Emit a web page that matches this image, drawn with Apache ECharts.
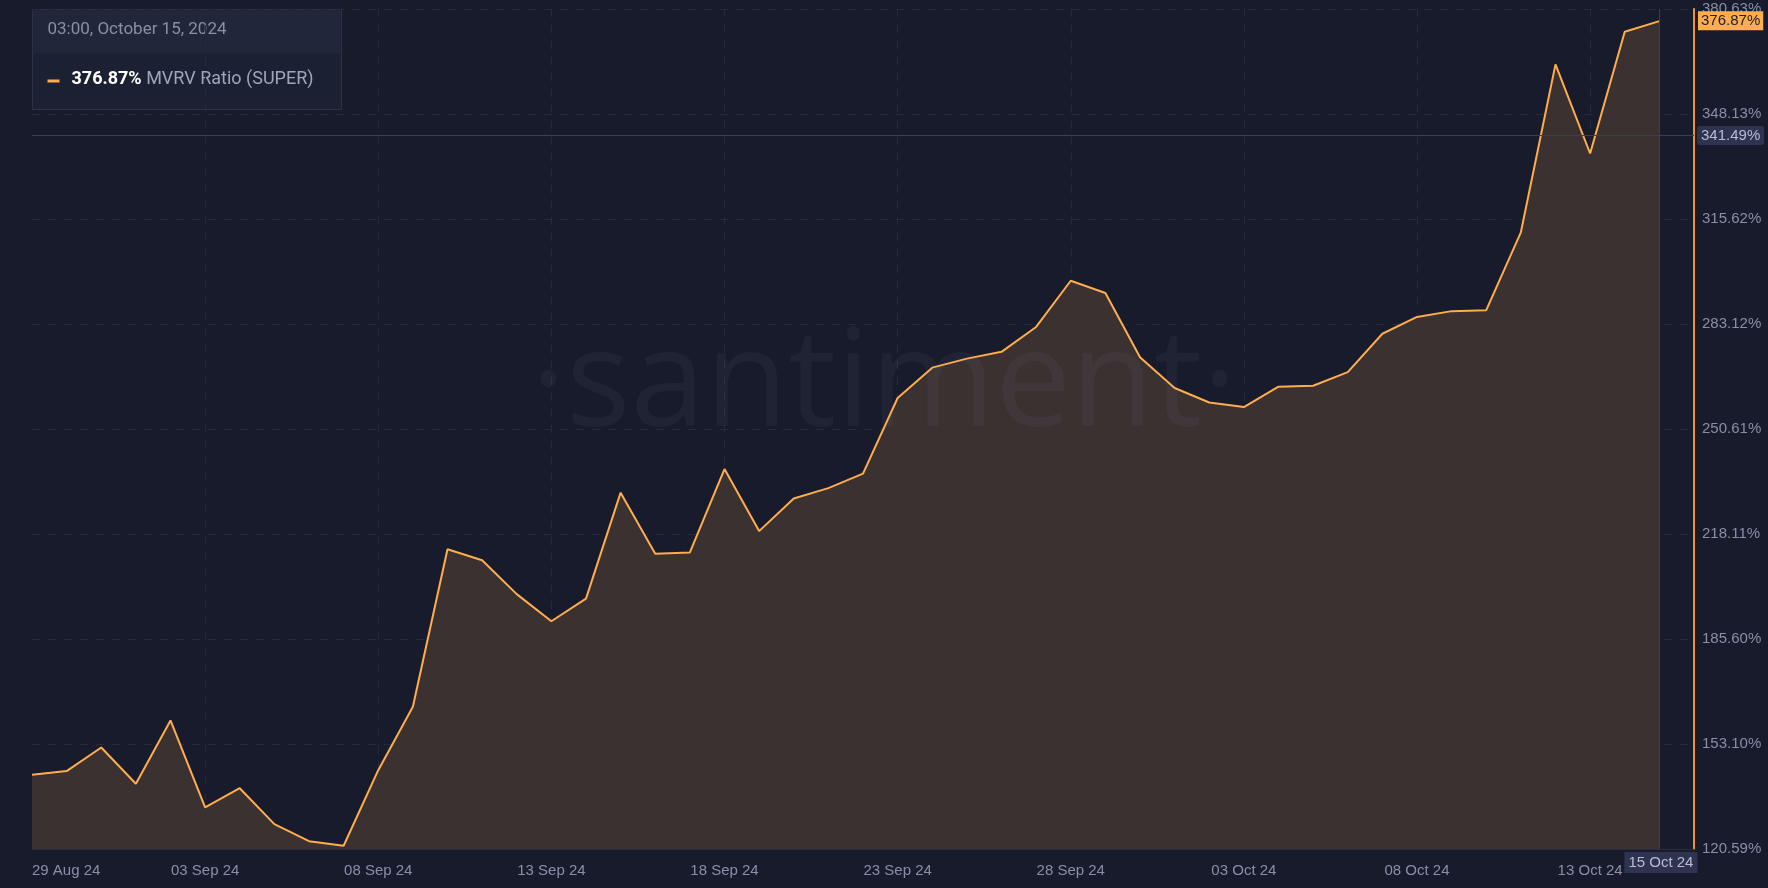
<!DOCTYPE html>
<html><head><meta charset="utf-8">
<script src="https://cdn.jsdelivr.net/npm/echarts@6/dist/echarts.min.js"></script>
<style>html,body{margin:0;padding:0;background:#181b2c}#c{width:1768px;height:888px}</style>
</head><body><div id="c"></div>
<script>
const dates = [];
(function(){const m=['Jan','Feb','Mar','Apr','May','Jun','Jul','Aug','Sep','Oct','Nov','Dec'];
 let d=new Date(Date.UTC(2024,7,29));
 for(let i=0;i<49;i++){dates.push(String(d.getUTCDate()).padStart(2,'0')+' '+m[d.getUTCMonth()]+' 24');d=new Date(d.getTime()+86400000);} })();
const mvrv = [143.6,144.7,152.0,140.8,160.4,133.5,139.4,128.3,123.0,121.6,
 145.0,164.6,213.4,210.0,199.5,191.1,198.1,230.9,212.0,212.4,
 238.2,219.0,229.1,232.3,236.8,260.2,269.6,272.4,274.5,282.2,
 296.5,292.7,272.8,263.3,258.8,257.4,263.7,264.0,268.2,280.1,
 285.3,287.1,287.4,311.5,363.5,335.9,373.6,376.87];
const yTicks = [120.59,153.10,185.60,218.11,250.61,283.12,315.62,348.13,380.63];
const lastValue = 376.87, crossValue = 341.49, crossDate = '15 Oct 24';
const c = echarts.init(document.getElementById('c'));
const grid='#262a3d', txt='#8a8fa8';
c.setOption({
 backgroundColor:'#181b2c',
 animation:false,
 grid:{left:32,right:74,top:9,bottom:39},
 xAxis:{type:'category',data:dates,boundaryGap:false,
  axisLine:{show:true,lineStyle:{color:'#2a2e42'}},axisTick:{show:false},
  axisLabel:{color:txt,fontSize:15,margin:14,interval:(i)=>i%5===0,hideOverlap:false,alignMinLabel:'left'},
  splitLine:{show:true,interval:(i)=>i%5===0&&i>0,lineStyle:{color:grid,type:[8,8]}},
  axisPointer:{show:true,value:crossDate,status:'show',type:'line',lineStyle:{color:'#3a3f58',width:1,type:'solid'},
   label:{show:false}}},
 yAxis:{type:'value',position:'right',min:yTicks[0],max:yTicks[8],interval:(yTicks[8]-yTicks[0])/8,
  axisLine:{show:true,lineStyle:{color:'#e8963a',width:2}},axisTick:{show:false},
  axisLabel:{color:txt,fontSize:15,margin:8,formatter:v=>{let b=yTicks.reduce((a,t)=>Math.abs(t-v)<Math.abs(a-v)?t:a);return b.toFixed(2)+'%';}},
  splitLine:{show:true,lineStyle:{color:grid,type:[8,8]}},
  axisPointer:{show:true,value:crossValue,status:'show',type:'line',lineStyle:{color:'#3a3f58',width:1,type:'solid'},
   label:{show:true,backgroundColor:'#2e3350',color:'#b8bdd4',fontSize:15,padding:[2,4],formatter:p=>(+p.value).toFixed(2)+'%'}}},
 series:[{type:'line',data:mvrv,symbol:'none',lineStyle:{color:'#ffad4d',width:2},
  areaStyle:{color:'#3b3131',opacity:1}}],
 graphic:[
  {type:'text',left:'center',top:320,z:10,silent:true,style:{text:'·santiment·',fontSize:135,fontFamily:'Open Sans',fill:'rgba(130,135,170,0.07)'}},
  {type:'group',left:32,top:9,z:20,children:[
   {type:'rect',shape:{x:0,y:0,width:309,height:100},style:{fill:'#1c2033',stroke:'#2c3148',lineWidth:1}},
   {type:'rect',shape:{x:1,y:1,width:307,height:43},style:{fill:'#22263a'}},
   {type:'text',x:15,y:12,style:{text:'03:00, October 15, 2024',fontSize:17,fill:'#8a8fa8',fontFamily:'Roboto'}},
   {type:'rect',shape:{x:15,y:70,width:12,height:3},style:{fill:'#ffad4d'}},
   {type:'text',x:39,y:61,style:{text:'{b|376.87%} MVRV Ratio (SUPER)',fontSize:18,fill:'#a0a5bd',fontFamily:'Roboto',rich:{b:{fontSize:18,fontWeight:'bold',fill:'#ffffff',fontFamily:'Roboto'}}}}
  ]}
 ]
});
const py = c.convertToPixel({yAxisIndex:0}, lastValue);
const px = c.convertToPixel({xAxisIndex:0}, crossDate);
c.setOption({graphic:[
 {type:'text',id:'lastLbl',left:1698,top:py-10,z:100,
  style:{text:lastValue.toFixed(2)+'%',fontSize:15,fill:'#1a1d2e',backgroundColor:'#ffad4d',padding:[2,3]}},
 {type:'text',id:'dateLbl',x:px-35,y:852,z:100,
  style:{text:crossDate,fontSize:15,fill:'#b8bdd4',backgroundColor:'#2e3350',padding:[3,4]}}]});
</script></body></html>
